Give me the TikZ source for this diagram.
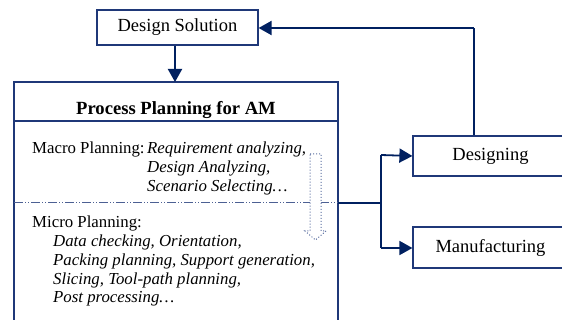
\documentclass[tikz,border=0pt]{standalone}
\usepackage{fontspec}
\setmainfont{Liberation Serif}
\usetikzlibrary{arrows.meta}
\definecolor{navy}{RGB}{0,32,96}
\definecolor{boxblue}{RGB}{31,56,120}
\definecolor{dotblue}{RGB}{90,110,160}
\begin{document}
\begin{tikzpicture}[x=1pt,y=-1pt,
  box/.style={draw=boxblue,line width=1.2pt,inner sep=0pt,font=\fontsize{18.5}{22}\selectfont},
  body/.style={anchor=base west,inner sep=0pt,font=\fontsize{16.8}{19}\selectfont},
  flow/.style={draw=navy,line width=2pt,-{Triangle[length=13pt,width=14pt]}},
  link/.style={draw=navy,line width=1.2pt}]
\useasboundingbox (0,0) rectangle (562,320);
% Design Solution
\node[box,minimum width=161pt,minimum height=35pt] (ds) at (177.5,27.5) {Design Solution};
% Process planning box (open at bottom)
\coordinate (ptl) at (14,82);
\coordinate (ptr) at (338,82);
\draw[boxblue,line width=1.2pt] (14,325) -- (ptl) -- (ptr) -- (338,325);
\draw[boxblue,line width=1.2pt] (14,121) -- (338,121);
\node[anchor=base,inner sep=0pt,font=\fontsize{18.6}{22}\selectfont\bfseries] (title) at (176,115) {Process Planning for AM};
\node[inner sep=0pt] (ptop) at (175,82) {};
\draw[flow] (ds.south -| ptop) -- (ptop.center);
% Macro
\node[body] (macro) at (32,154) {Macro Planning:};
\node[body] (m1) at (147,154) {\itshape Requirement analyzing,};
\node[body] (m2) at (147,173) {\itshape Design Analyzing,};
\node[body] (m3) at (147,192) {\itshape Scenario Selecting\dots};
% separator
\coordinate (sepl) at (14,203);
\coordinate (sepr) at (338,203);
\draw[boxblue!80,line width=1pt,dash pattern=on 9pt off 2pt on 1pt off 2pt on 1pt off 2pt] (sepl) -- (sepr);
% Micro
\node[body] (micro) at (32,228) {Micro Planning:};
\node[body] (u1) at (53,247) {\itshape Data checking, Orientation,};
\node[body] (u2) at (53,266) {\itshape Packing planning, Support generation,};
\node[body] (u3) at (53,284) {\itshape Slicing, Tool-path planning,};
\node[body] (u4) at (53,302) {\itshape Post processing\dots};
% dotted hollow arrow
\draw[dotblue,line width=1pt,dotted,fill=white] (310,154) -- (321,154) -- (321,231) -- (326,231) -- (315.5,240) -- (305,231) -- (310,231) -- cycle;
% right boxes
\node[box,minimum width=155pt,minimum height=40pt] (des) at (490.5,156) {Designing};
\node[box,minimum width=155pt,minimum height=41pt] (man) at (490.5,247.5) {Manufacturing};
% connectors
\coordinate (split) at (381,203);
\draw[link] (sepr) -- (split);
\draw[link] (381,155) -- (381,248);
\draw[flow,line width=1.8pt] (381,155) -- (des.west);
\draw[flow,line width=1.8pt] (381,248) -- (man.west |- 0,248);
\coordinate (fb) at (474,28);
\draw[link] (des.north -| fb) -- (fb);
\draw[flow] (fb) -- (ds.east |- fb);
\end{tikzpicture}
\end{document}
